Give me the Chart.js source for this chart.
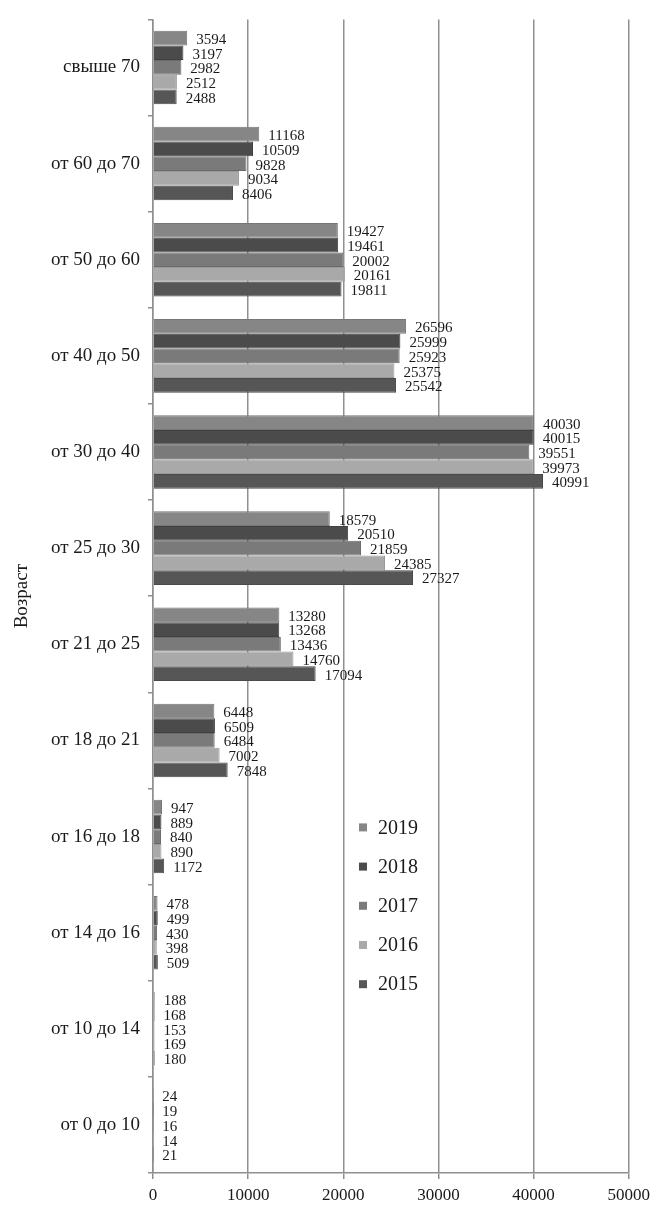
<!DOCTYPE html>
<html>
<head>
<meta charset="utf-8">
<script src="https://cdn.jsdelivr.net/npm/chart.js@4"></script>
<style>
  html, body { margin: 0; padding: 0; background: #fff; }
  #wrap { width: 656px; height: 1209px; position: relative; }
</style>
</head>
<body>
<div id="wrap"><canvas id="myChart"></canvas></div>
<script>
const ages = [
  'свыше 70',
  'от 60 до 70',
  'от 50 до 60',
  'от 40 до 50',
  'от 30 до 40',
  'от 25 до 30',
  'от 21 до 25',
  'от 18 до 21',
  'от 16 до 18',
  'от 14 до 16',
  'от 10 до 14',
  'от 0 до 10'
];
const years = ['2019', '2018', '2017', '2016', '2015'];

const y2019 = [3594, 11168, 19427, 26596, 40030, 18579, 13280, 6448, 947, 478, 188, 24];
const y2018 = [3197, 10509, 19461, 25999, 40015, 20510, 13268, 6509, 889, 499, 168, 19];
const y2017 = [2982, 9828, 20002, 25923, 39551, 21859, 13436, 6484, 840, 430, 153, 16];
const y2016 = [2512, 9034, 20161, 25375, 39973, 24385, 14760, 7002, 890, 398, 169, 14];
const y2015 = [2488, 8406, 19811, 25542, 40991, 27327, 17094, 7848, 1172, 509, 180, 21];

const xTicks = [0, 10000, 20000, 30000, 40000, 50000];

const fills = ['#868686', '#4b4b4b', '#7a7a7a', '#a9a9a9', '#565656'];
const edges = ['#767676', '#404040', '#6a6a6a', '#999999', '#4a4a4a'];
const serif = '"Liberation Serif", "DejaVu Serif", serif';

// value text right after the end of each bar
const barValues = {
  id: 'barValues',
  afterDatasetsDraw(chart) {
    const ctx = chart.ctx;
    ctx.save();
    ctx.font = '15px ' + serif;
    ctx.fillStyle = '#1a1a1a';
    ctx.textAlign = 'left';
    ctx.textBaseline = 'middle';
    chart.data.datasets.forEach((ds, i) => {
      chart.getDatasetMeta(i).data.forEach((bar, j) => {
        ctx.fillText(String(ds.data[j]), bar.x + 9, bar.y + 2);
      });
    });
    ctx.restore();
  }
};

// vertical legend placed inside the plot, lower middle
const innerLegend = {
  id: 'innerLegend',
  afterDraw(chart) {
    const ctx = chart.ctx;
    const area = chart.chartArea;
    const x0 = area.left + 206;
    const y0 = area.top + 808;
    ctx.save();
    ctx.font = '20px ' + serif;
    ctx.textBaseline = 'middle';
    ctx.textAlign = 'left';
    chart.data.datasets.forEach((ds, i) => {
      const y = y0 + i * 39.2;
      ctx.fillStyle = ds.backgroundColor;
      ctx.fillRect(x0, y - 4, 8, 8);
      ctx.fillStyle = '#1a1a1a';
      ctx.fillText(ds.label, x0 + 19, y + 1);
    });
    ctx.restore();
  }
};

function graph() {
  const series = [y2019, y2018, y2017, y2016, y2015];
  const config = {
    type: 'bar',
    data: {
      labels: ages,
      datasets: series.map((vals, i) => ({
        label: years[i],
        data: vals,
        backgroundColor: fills[i],
        borderColor: edges[i],
        borderWidth: 1,
        categoryPercentage: 0.765,
        barPercentage: 1
      }))
    },
    options: {
      indexAxis: 'y',
      responsive: false,
      animation: false,
      devicePixelRatio: 1,
      layout: { padding: { top: 13, right: 25, left: 0, bottom: 0 } },
      plugins: {
        legend: { display: false },
        tooltip: { enabled: false }
      },
      scales: {
        x: {
          min: 0,
          max: 50000,
          afterBuildTicks(scale) {
            scale.ticks = xTicks.map(v => ({ value: v }));
          },
          afterFit(scale) { scale.height = 36; },
          grid: {
            color: '#8f8f8f',
            lineWidth: 1.5,
            tickLength: 6,
            drawOnChartArea: true
          },
          border: { color: '#8f8f8f', width: 1.5 },
          ticks: {
            padding: 6,
            color: '#1a1a1a',
            font: { family: serif, size: 17 },
            maxRotation: 0,
            callback: v => String(v)
          }
        },
        y: {
          afterFit(scale) { scale.width = 153; },
          grid: {
            offset: true,
            drawOnChartArea: false,
            tickLength: 5,
            color: '#8f8f8f',
            lineWidth: 1.5
          },
          border: { color: '#8f8f8f', width: 1.5 },
          ticks: {
            padding: 8,
            color: '#1a1a1a',
            font: { family: serif, size: 19 }
          },
          title: {
            display: true,
            text: 'Возраст',
            color: '#1a1a1a',
            font: { family: serif, size: 19 },
            padding: { top: 11, bottom: 0 }
          }
        }
      }
    },
    plugins: [barValues, innerLegend]
  };
  const canvas = document.querySelector('#myChart');
  canvas.width = 656;
  canvas.height = 1209;
  new Chart(canvas, config);
}

graph();
</script>
</body>
</html>
